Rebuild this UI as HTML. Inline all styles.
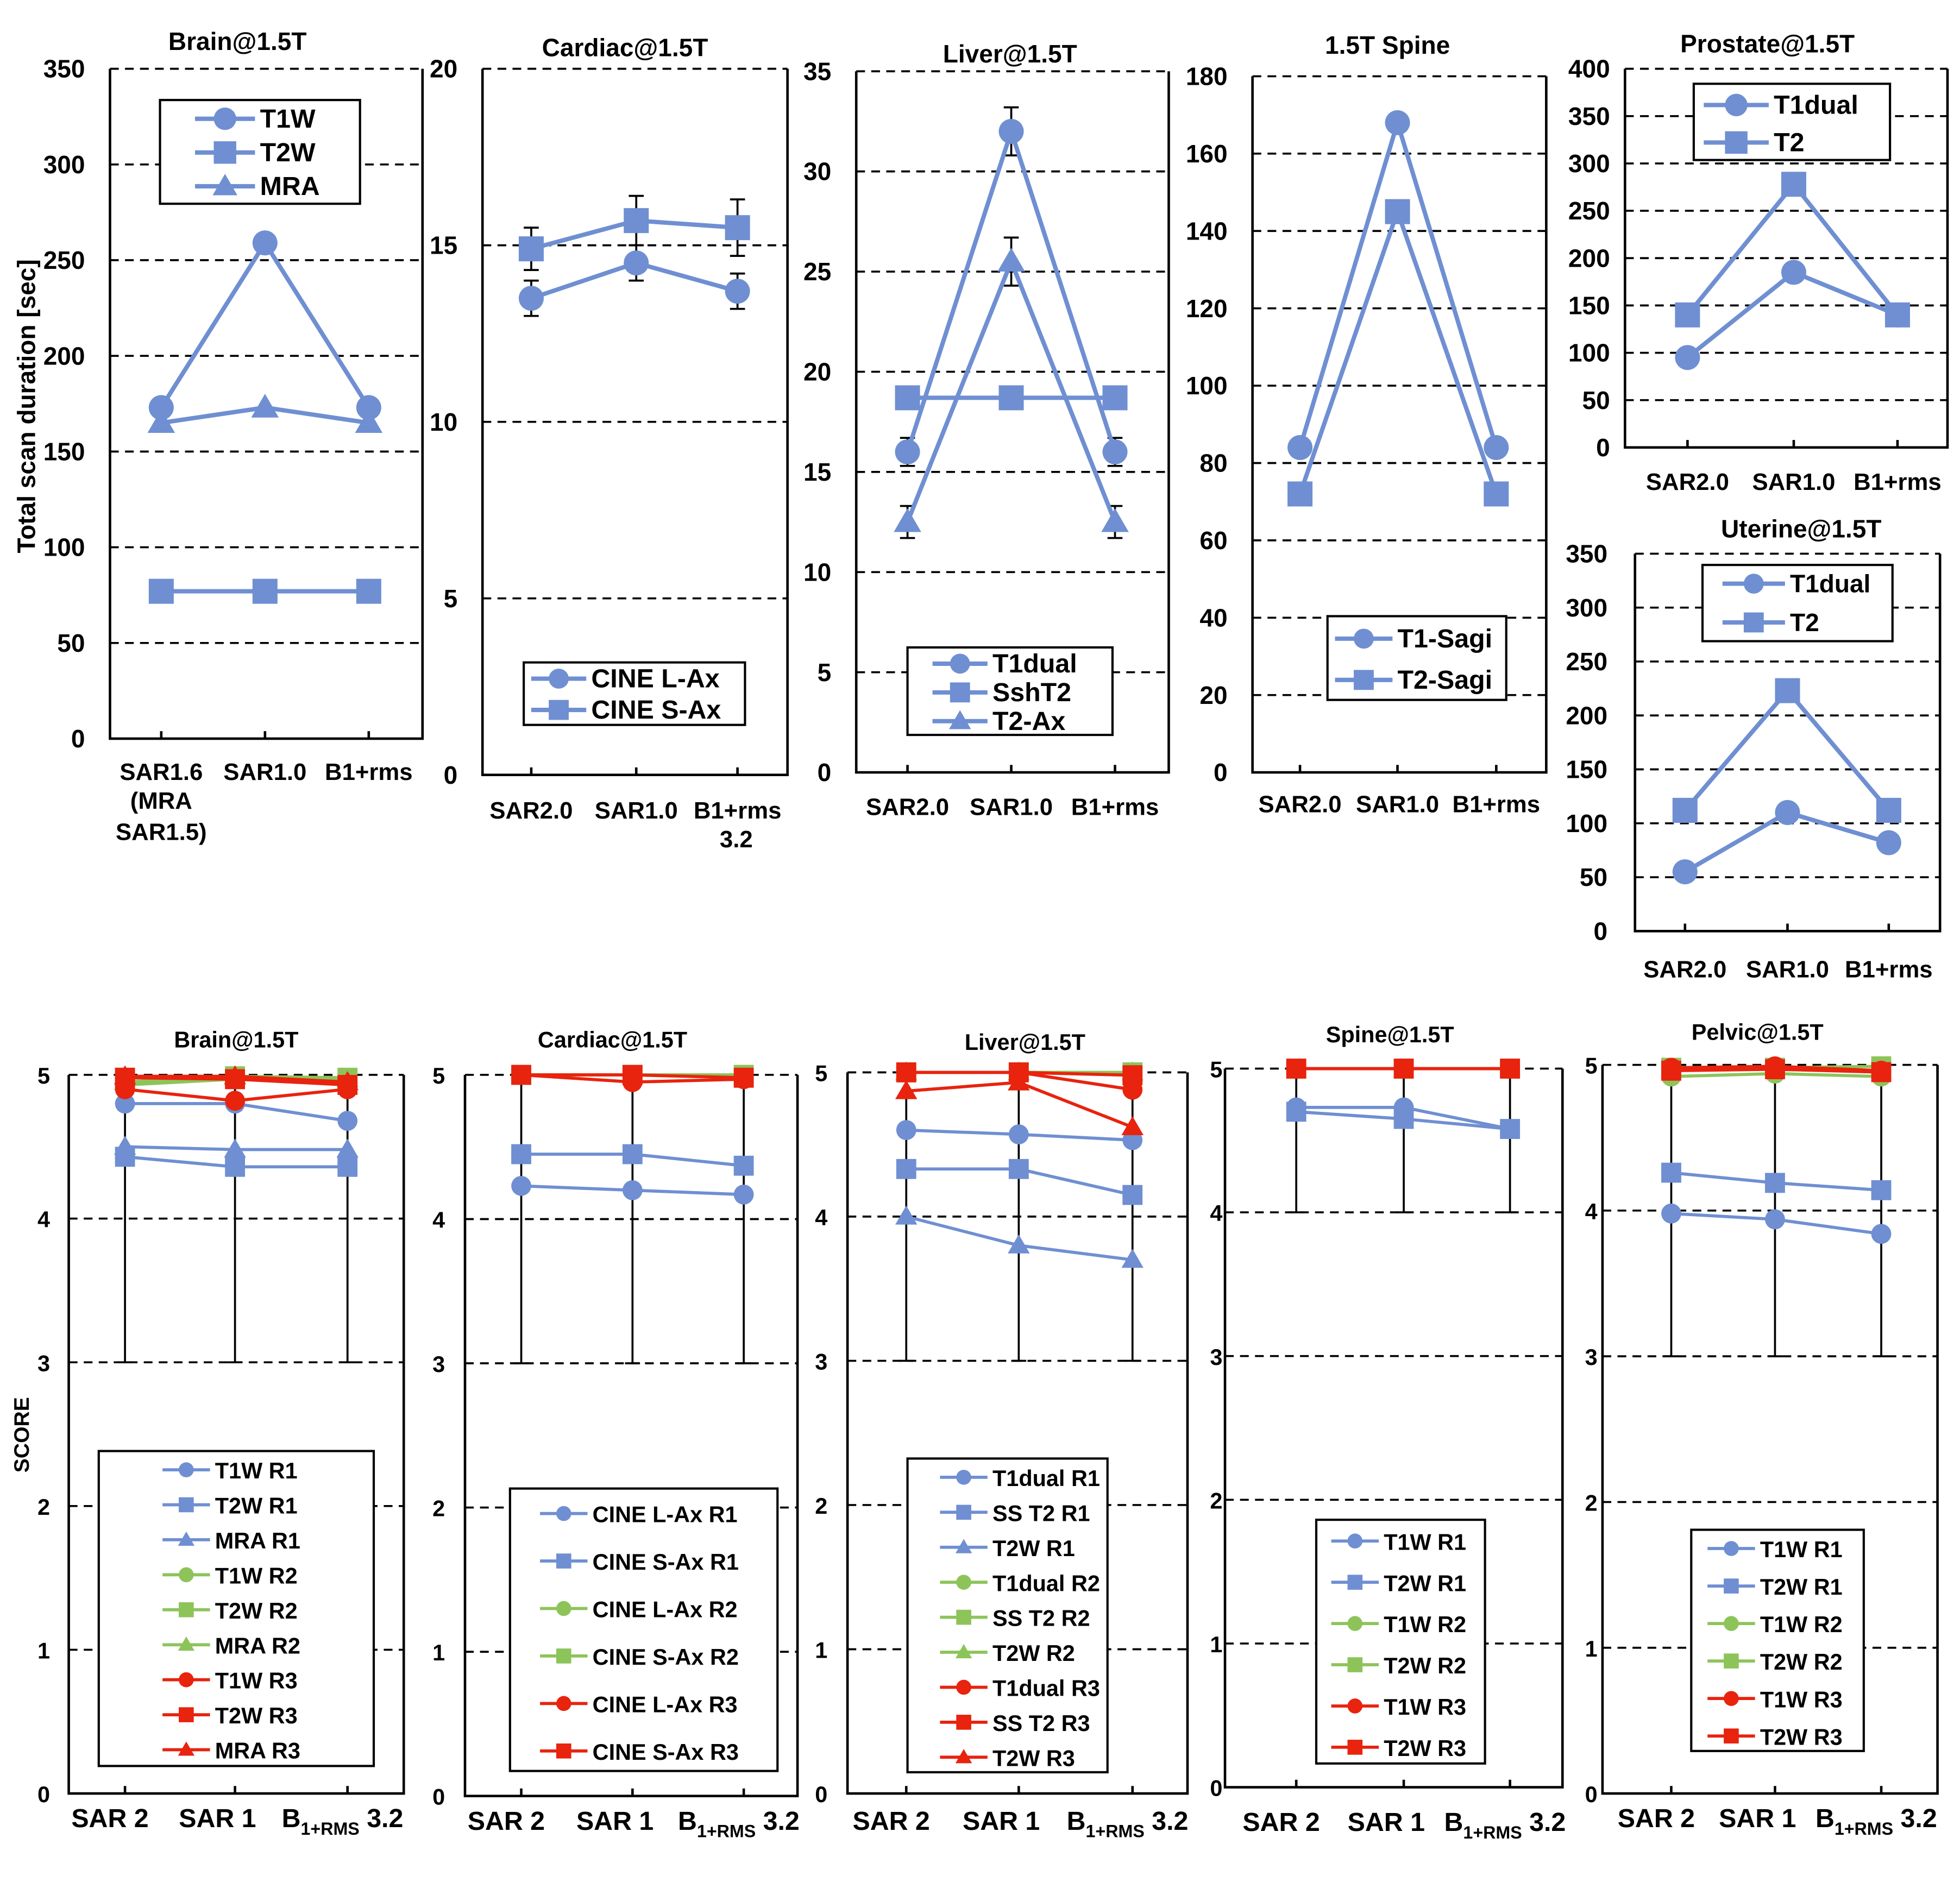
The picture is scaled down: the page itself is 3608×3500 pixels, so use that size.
<!DOCTYPE html>
<html><head><meta charset="utf-8">
<style>
html,body{margin:0;padding:0;background:#fff;}
svg{display:block;font-family:"Liberation Sans",Arial,sans-serif;font-weight:bold;}
</style></head>
<body>
<svg id="fig" width="3608" height="3500" viewBox="0 0 1568 1521" xmlns="http://www.w3.org/2000/svg"></svg>
<script>
// ---------- data ----------
const brainTopCats = ["SAR1.6","SAR1.0","B1+rms"];
const brainT1W = [173,259,173];
const brainT2W = [77,77,77];
const brainMRA = [165,173,165];
const cardTopCats = ["SAR2.0","SAR1.0","B1+rms"];
const cardLAx = [13.5,14.5,13.7];
const cardLAxErr = [0.5,0.5,0.5];
const cardSAx = [14.9,15.7,15.5];
const cardSAxErr = [0.6,0.7,0.8];
const liverTopCats = ["SAR2.0","SAR1.0","B1+rms"];
const liverT1dual = [16,32,16];
const liverT1dualErr = [0.7,1.2,0.7];
const liverSshT2 = [18.7,18.7,18.7];
const liverT2Ax = [12.5,25.5,12.5];
const liverT2AxErr = [0.8,1.2,0.8];
const spineTopCats = ["SAR2.0","SAR1.0","B1+rms"];
const spineT1 = [84,168,84];
const spineT2 = [72,145,72];
const prostCats = ["SAR2.0","SAR1.0","B1+rms"];
const prostT1dual = [95,185,140];
const prostT2 = [140,278,140];
const uterCats = ["SAR2.0","SAR1.0","B1+rms"];
const uterT1dual = [55,110,82];
const uterT2 = [112,223,112];

const scoreCats = ["SAR 2","SAR 1","B1+RMS 3.2"];
const bT1W1=[4.8,4.8,4.68], bT2W1=[4.43,4.36,4.36], bMRA1=[4.5,4.48,4.48];
const bT1W2=[4.93,4.97,4.95], bT2W2=[4.98,4.99,4.98], bMRA2=[4.95,4.99,4.97];
const bT1W3=[4.9,4.82,4.9], bT2W3=[4.98,4.97,4.93], bMRA3=[4.99,4.99,4.95];
const cL1=[4.23,4.2,4.17], cS1=[4.45,4.45,4.37], cL2=[5,5,5], cS2=[5,5,5], cL3=[5,4.95,4.97], cS3=[5,5,4.98];
const lT1=[4.6,4.57,4.53], lSS=[4.33,4.33,4.15], lT2=[4.0,3.8,3.7];
const lT1b=[5,5,5], lSSb=[5,5,5], lT2b=[5,5,5];
const lT1c=[5,5,4.88], lSSc=[5,5,4.98], lT2c=[4.87,4.93,4.62];
const sT1=[4.73,4.73,4.58], sT2=[4.7,4.65,4.58], sT1b=[5,5,5], sT2b=[5,5,5], sT1c=[5,5,5], sT2c=[5,5,5];
const pT1=[3.98,3.94,3.84], pT2=[4.26,4.19,4.14], pT1b=[4.92,4.94,4.92], pT2b=[4.98,4.98,4.99], pT1c=[4.98,4.99,4.96], pT2c=[4.96,4.97,4.95];

const BLUE="#6f8fd2", GREEN="#8dc45a", RED="#e8230e";
const svg=document.getElementById('fig');
const NS="http://www.w3.org/2000/svg";
function el(tag,attrs,parent){const e=document.createElementNS(NS,tag);for(const k in attrs)e.setAttribute(k,attrs[k]);(parent||svg).appendChild(e);return e;}
function txt(s,x,y,size,anchor,parent,name){const t=el('text',{x:x,y:y,'font-size':size,'text-anchor':anchor||'middle'},parent);t.textContent=s;


return t;}
function marker(g,type,x,y,r,color){
  let m;
  if(type==='c') m=el('circle',{cx:x,cy:y,r:r,fill:color},g);
  else if(type==='s') m=el('rect',{x:x-r,y:y-r,width:2*r,height:2*r,fill:color},g);
  else m=el('polygon',{points:`${x},${y-r*1.1} ${x-r*1.1},${y+r*0.8} ${x+r*1.1},${y+r*0.8}`,fill:color},g);
  return m;
}
function panel(cfg){
  const g=el('g',{});
  
  
  const {x0,x1,y0,y1,vmax,step}=cfg;
  const Y=v=>y1-(v/vmax)*(y1-y0);
  const X=i=>cfg.cx[i];
  for(let v=step;v<=vmax+1e-9;v+=step){
    const gl=el('line',{x1:x0,x2:x1,y1:Y(v),y2:Y(v),stroke:'#000','stroke-width':1.6,'stroke-dasharray':'7,5'},g);
    
    
  }
  const box=el('path',{d:`M${x0},${y0} L${x0},${y1} L${x1},${y1} L${x1},${y0}`,fill:'none',stroke:'#000','stroke-width':2},g);
  
  
  for(let v=0;v<=vmax+1e-9;v+=step){
    txt(String(v),cfg.lx,Y(v)+7,cfg.fs||20,'end',g,'y-tick-label');
  }
  cfg.cx.forEach((c,i)=>{const tk=el('line',{x1:c,x2:c,y1:y1,y2:y1-6,stroke:'#000','stroke-width':2},g);
    });
  txt(cfg.title,cfg.tx,cfg.ty,cfg.tfs||20,'middle',g,'panel-title');
  (cfg.err||[]).forEach(e=>{
    e.vals.forEach((v,i)=>{
      const lo=e.lo!==undefined?e.lo:v-e.e[i], hi=e.hi!==undefined?e.hi:v+e.e[i];
      const eb=el('path',{d:`M${X(i)},${Y(lo)} L${X(i)},${Y(hi)} M${X(i)-6},${Y(lo)} L${X(i)+6},${Y(lo)} M${X(i)-6},${Y(hi)} L${X(i)+6},${Y(hi)}`,stroke:'#000','stroke-width':1.6,fill:'none'},g);
      
    });
  });
  cfg.series.forEach(s=>{
    const sg=el('g',{},g);
    
    
    const pl=el('polyline',{points:s.vals.map((v,i)=>`${X(i)},${Y(v)}`).join(' '),fill:'none',stroke:s.color,'stroke-width':cfg.lw||3.5},sg);
    
    s.vals.forEach((v,i)=>{const m=marker(sg,s.m,X(i),Y(v),cfg.mr||10,s.color);
      });
  });
  const L=cfg.leg;
  const lg=el('g',{},g);
  
  
  el('rect',{x:L.x,y:L.y,width:L.w,height:L.h,fill:'#fff',stroke:'#000','stroke-width':1.8},lg);
  cfg.series.forEach((s,i)=>{
    const yy=L.y+L.pad+i*L.dy;
    const e=el('g',{},lg);
    
    
    el('line',{x1:L.x+L.lx,x2:L.x+L.lx+L.ll,y1:yy,y2:yy,stroke:s.color,'stroke-width':cfg.lw||3.5},e);
    marker(e,s.m,L.x+L.lx+L.ll/2,yy,L.mr,s.color);
    txt(s.label,L.x+L.lx+L.ll+4,yy+7,L.fs,'start',e,'legend-label');
  });
  cfg.xl.forEach(l=>{
    if(l.sub){
      const t=el('text',{x:l.x,y:l.y,'font-size':21,'text-anchor':'middle'},g);
      
      const a=el('tspan',{},t);a.textContent='B';
      const b=el('tspan',{dy:6,'font-size':14},t);b.textContent='1+RMS';
      const c=el('tspan',{dy:-6},t);c.textContent=' 3.2';
    } else txt(l.t,l.x,l.y,l.fs||19,'middle',g,'x-tick-label');
  });
  return g;
}
const top3=(cx,y,extra)=>[{t:"SAR2.0",x:cx[0],y:y},{t:"SAR1.0",x:cx[1],y:y},{t:"B1+rms",x:cx[2],y:y}].concat(extra||[]);
let cx=[129,212,295];
panel({name:'brain-duration-panel',x0:88,x1:338,y0:55,y1:591,vmax:350,step:50,lx:68,cx,title:"Brain@1.5T",tx:190,ty:40,
 series:[{label:"T1W",vals:brainT1W,m:'c',color:BLUE},{label:"T2W",vals:brainT2W,m:'s',color:BLUE},{label:"MRA",vals:brainMRA,m:'t',color:BLUE}],
 leg:{x:128,y:80,w:160,h:83,pad:15,dy:27,lx:28,ll:48,mr:9,fs:21},
 xl:[{t:brainTopCats[0],x:129,y:624},{t:"(MRA",x:129,y:647},{t:"SAR1.5)",x:129,y:672},{t:brainTopCats[1],x:212,y:624},{t:brainTopCats[2],x:295,y:624}]});
const yt=txt("Total scan duration [sec]",0,0,20,'middle',svg,'y-axis-title');
yt.setAttribute('transform','translate(28,325) rotate(-90)');
cx=[425,509,590];
panel({name:'cardiac-duration-panel',x0:386,x1:630,y0:55,y1:620,vmax:20,step:5,lx:366,cx,title:"Cardiac@1.5T",tx:500,ty:45,
 err:[{vals:cardLAx,e:cardLAxErr},{vals:cardSAx,e:cardSAxErr}],
 series:[{label:"CINE L-Ax",vals:cardLAx,m:'c',color:BLUE},{label:"CINE S-Ax",vals:cardSAx,m:'s',color:BLUE}],
 leg:{x:419,y:530,w:177,h:50,pad:13,dy:25,lx:6,ll:44,mr:8,fs:21},
 xl:top3(cx,655,[{t:"3.2",x:589,y:678}])});
cx=[726,809,892];
panel({name:'liver-duration-panel',x0:685,x1:935,y0:57,y1:618,vmax:35,step:5,lx:665,cx,title:"Liver@1.5T",tx:808,ty:50,
 err:[{vals:liverT1dual,e:liverT1dualErr},{vals:liverT2Ax,e:liverT2AxErr}],
 series:[{label:"T1dual",vals:liverT1dual,m:'c',color:BLUE},{label:"SshT2",vals:liverSshT2,m:'s',color:BLUE},{label:"T2-Ax",vals:liverT2Ax,m:'t',color:BLUE}],
 leg:{x:726,y:518,w:164,h:70,pad:13,dy:23,lx:20,ll:44,mr:8,fs:21},
 xl:top3(cx,652)});
cx=[1040,1118,1197];
panel({name:'spine-duration-panel',x0:1002,x1:1237,y0:61,y1:618,vmax:180,step:20,lx:982,cx,title:"1.5T Spine",tx:1110,ty:43,
 series:[{label:"T1-Sagi",vals:spineT1,m:'c',color:BLUE},{label:"T2-Sagi",vals:spineT2,m:'s',color:BLUE}],
 leg:{x:1062,y:493,w:143,h:67,pad:18,dy:33,lx:6,ll:46,mr:8,fs:21},
 xl:top3(cx,650)});
cx=[1350,1435,1518];
panel({name:'prostate-duration-panel',x0:1300,x1:1558,y0:55,y1:358,vmax:400,step:50,lx:1288,cx,title:"Prostate@1.5T",tx:1414,ty:42,
 series:[{label:"T1dual",vals:prostT1dual,m:'c',color:BLUE},{label:"T2",vals:prostT2,m:'s',color:BLUE}],
 leg:{x:1355,y:67,w:157,h:61,pad:17,dy:30,lx:8,ll:52,mr:9,fs:21},
 xl:top3(cx,392)});
cx=[1348,1430,1511];
panel({name:'uterine-duration-panel',x0:1308,x1:1552,y0:443,y1:745,vmax:350,step:50,lx:1286,cx,title:"Uterine@1.5T",tx:1441,ty:430,
 series:[{label:"T1dual",vals:uterT1dual,m:'c',color:BLUE},{label:"T2",vals:uterT2,m:'s',color:BLUE}],
 leg:{x:1362,y:452,w:152,h:61,pad:15,dy:31,lx:16,ll:50,mr:8,fs:20},
 xl:top3(cx,782)});

function sx(cx,y){return [{t:scoreCats[0],x:cx[0]-12,y:y,fs:21},{t:scoreCats[1],x:cx[1]-14,y:y,fs:21},{sub:1,x:cx[2]-4,y:y}];}
const sLeg=(x,y,w,h,dy,pad,lx)=>({x,y,w,h,pad,dy,lx:lx,ll:38,mr:6,fs:18});
cx=[100,188,278];
panel({name:'brain-score-panel',x0:55,x1:323,y0:860,y1:1435,vmax:5,step:1,lx:40,cx,title:"Brain@1.5T",tx:189,ty:838,tfs:18,fs:18,lw:2.5,mr:8,
 err:[{vals:bT1W1,lo:3,hi:5}],
 series:[{label:"T1W R1",vals:bT1W1,m:'c',color:BLUE},{label:"T2W R1",vals:bT2W1,m:'s',color:BLUE},{label:"MRA R1",vals:bMRA1,m:'t',color:BLUE},
 {label:"T1W R2",vals:bT1W2,m:'c',color:GREEN},{label:"T2W R2",vals:bT2W2,m:'s',color:GREEN},{label:"MRA R2",vals:bMRA2,m:'t',color:GREEN},
 {label:"T1W R3",vals:bT1W3,m:'c',color:RED},{label:"T2W R3",vals:bT2W3,m:'s',color:RED},{label:"MRA R3",vals:bMRA3,m:'t',color:RED}],
 leg:sLeg(79,1161,220,252,28,15,51),xl:sx(cx,1462)});
const sc=txt("SCORE",0,0,17,'middle',svg,'y-axis-title');sc.setAttribute('transform','translate(23,1148) rotate(-90)');
cx=[417,506,595];
panel({name:'cardiac-score-panel',x0:372,x1:638,y0:860,y1:1437,vmax:5,step:1,lx:356,cx,title:"Cardiac@1.5T",tx:490,ty:838,tfs:18,fs:18,lw:2.5,mr:8,
 err:[{vals:cL1,lo:3,hi:5}],
 series:[{label:"CINE L-Ax R1",vals:cL1,m:'c',color:BLUE},{label:"CINE S-Ax R1",vals:cS1,m:'s',color:BLUE},
 {label:"CINE L-Ax R2",vals:cL2,m:'c',color:GREEN},{label:"CINE S-Ax R2",vals:cS2,m:'s',color:GREEN},
 {label:"CINE L-Ax R3",vals:cL3,m:'c',color:RED},{label:"CINE S-Ax R3",vals:cS3,m:'s',color:RED}],
 leg:sLeg(408,1191,214,226,38,20,24),xl:sx(cx,1464)});
cx=[725,815,906];
panel({name:'liver-score-panel',x0:678,x1:950,y0:858,y1:1435,vmax:5,step:1,lx:662,cx,title:"Liver@1.5T",tx:820,ty:840,tfs:18,fs:18,lw:2.5,mr:8,
 err:[{vals:lT2,lo:3,hi:5}],
 series:[{label:"T1dual R1",vals:lT1,m:'c',color:BLUE},{label:"SS T2 R1",vals:lSS,m:'s',color:BLUE},{label:"T2W R1",vals:lT2,m:'t',color:BLUE},
 {label:"T1dual R2",vals:lT1b,m:'c',color:GREEN},{label:"SS T2 R2",vals:lSSb,m:'s',color:GREEN},{label:"T2W R2",vals:lT2b,m:'t',color:GREEN},
 {label:"T1dual R3",vals:lT1c,m:'c',color:RED},{label:"SS T2 R3",vals:lSSc,m:'s',color:RED},{label:"T2W R3",vals:lT2c,m:'t',color:RED}],
 leg:sLeg(726,1167,160,251,28,15,26),xl:sx(cx,1464)});
cx=[1037,1123,1208];
panel({name:'spine-score-panel',x0:980,x1:1250,y0:855,y1:1430,vmax:5,step:1,lx:978,cx,title:"Spine@1.5T",tx:1112,ty:834,tfs:18,fs:18,lw:2.5,mr:8,
 err:[{vals:sT1,lo:4,hi:5}],
 series:[{label:"T1W R1",vals:sT1,m:'c',color:BLUE},{label:"T2W R1",vals:sT2,m:'s',color:BLUE},
 {label:"T1W R2",vals:sT1b,m:'c',color:GREEN},{label:"T2W R2",vals:sT2b,m:'s',color:GREEN},
 {label:"T1W R3",vals:sT1c,m:'c',color:RED},{label:"T2W R3",vals:sT2c,m:'s',color:RED}],
 leg:sLeg(1053,1216,135,195,33,17,12),xl:sx(cx,1465)});
cx=[1337,1420,1505];
panel({name:'pelvic-score-panel',x0:1282,x1:1550,y0:852,y1:1435,vmax:5,step:1,lx:1278,cx,title:"Pelvic@1.5T",tx:1406,ty:832,tfs:18,fs:18,lw:2.5,mr:8,
 err:[{vals:pT1,lo:3,hi:5}],
 series:[{label:"T1W R1",vals:pT1,m:'c',color:BLUE},{label:"T2W R1",vals:pT2,m:'s',color:BLUE},
 {label:"T1W R2",vals:pT1b,m:'c',color:GREEN},{label:"T2W R2",vals:pT2b,m:'s',color:GREEN},
 {label:"T1W R3",vals:pT1c,m:'c',color:RED},{label:"T2W R3",vals:pT2c,m:'s',color:RED}],
 leg:sLeg(1353,1224,138,177,30,15,13),xl:sx(cx,1462)});
</script>
</body></html>
